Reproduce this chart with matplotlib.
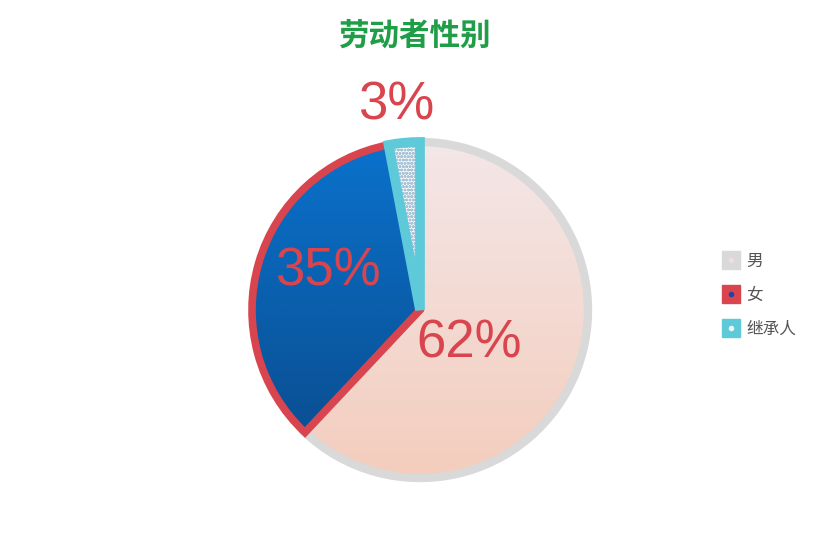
import numpy as np
import matplotlib
matplotlib.use('Agg')
import matplotlib.pyplot as plt
from matplotlib.colors import LinearSegmentedColormap
from matplotlib.patches import Wedge
from matplotlib.lines import Line2D
from matplotlib.legend_handler import HandlerTuple

# data
labels = ['男', '女', '继承人']
shares = [62, 35, 3]
pct_text = ['62%', '35%', '3%']

# styles
grad_top = ['#f4e7e8', '#0a72cc', '#ffffff']
grad_bot = ['#f3cdbd', '#0a4a8a', '#ffffff']
edge_cols = ['#d9d9d9', '#d9454f', '#5ec9d8']
edge_w = [6, 5.5, 7]
dot_cols = ['#f0dede', '#2b3f9e', '#e8f6f8']
label_pos = [(0.29, -0.20), (-0.55, 0.23), (-0.14, 1.22)]

fig = plt.figure(figsize=(8.28, 5.38), dpi=100)
ax = fig.add_axes([0, 0, 1, 1])

cx, cy, r = 420, 228, 168
wedges, _ = ax.pie(shares, startangle=90, counterclock=False, center=(cx, cy),
                   radius=r, frame=True,
                   wedgeprops=dict(facecolor='none', linewidth=0))

for i, w in enumerate(wedges):
    if i == 2:
        # pattern-filled small wedge
        face = Wedge((cx, cy), r, w.theta1, w.theta2, facecolor='white',
                     edgecolor='#a9c4d6', hatch='ooooo', linewidth=0, zorder=2 * i + 1)
        ax.add_patch(face)
    else:
        cmap = LinearSegmentedColormap.from_list('g%d' % i, [grad_bot[i], grad_top[i]])
        grad = np.linspace(0, 1, 256).reshape(-1, 1)
        im = ax.imshow(grad, cmap=cmap, extent=(cx - r, cx + r, cy - r, cy + r),
                       origin='lower', aspect='auto', zorder=2 * i + 1)
        im.set_clip_path(w)
    border = Wedge((cx, cy), r, w.theta1, w.theta2, fill=False,
                   edgecolor=edge_cols[i], linewidth=edge_w[i],
                   joinstyle='miter', zorder=2 * i + 2)
    ax.add_patch(border)

for i, t in enumerate(pct_text):
    dx, dy = label_pos[i]
    ax.text(cx + dx * r, cy + dy * r, t, ha='center', va='center',
            fontsize=38, color='#d9454f', family=['Liberation Sans', 'DejaVu Sans'],
            zorder=10)

ax.text(415, 538 - 36, '劳动者性别', ha='center', va='center', fontsize=22,
        fontweight='bold', color='#1f9e47', family=['Noto Sans CJK SC', 'DejaVu Sans'])

handles = []
for i in range(3):
    sq = Line2D([], [], marker='s', linestyle='none', markersize=13,
                markerfacecolor=edge_cols[i], markeredgecolor=edge_cols[i])
    dot = Line2D([], [], marker='o', linestyle='none', markersize=4,
                 markerfacecolor=dot_cols[i], markeredgecolor='none')
    handles.append((sq, dot))

leg = ax.legend(handles, labels, handler_map={tuple: HandlerTuple(ndivide=1)},
                loc='center left', bbox_to_anchor=(0.855, 0.451), frameon=False,
                prop={'family': ['Noto Sans CJK SC', 'DejaVu Sans'], 'size': 12},
                handlelength=1.0, handletextpad=0.4, labelspacing=1.0)
for txt in leg.get_texts():
    txt.set_color('#555555')

ax.set_xlim(0, 828)
ax.set_ylim(0, 538)
ax.set_aspect('equal')
ax.axis('off')

fig.savefig('out.png', dpi=100)
